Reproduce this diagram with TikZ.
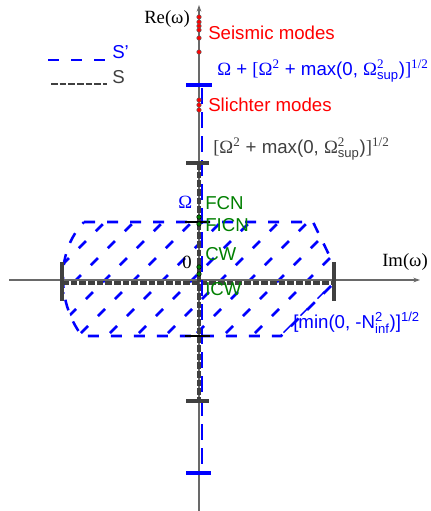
\documentclass[tikz,border=0pt]{standalone}
\usepackage{fontspec}
\usepackage{amsmath}
\setmainfont{Liberation Sans}
\newfontfamily\srf{Liberation Serif}
\usetikzlibrary{arrows.meta}
\definecolor{myblue}{RGB}{0,0,255}
\definecolor{myred}{RGB}{255,0,0}
\definecolor{mygreen}{RGB}{0,128,0}
\definecolor{mygray}{RGB}{64,64,64}
\definecolor{axisgray}{RGB}{105,105,105}
\newcommand\Om{{\srf Ω}}
\newcommand\sqz[1]{$^{\text{#1}}$}
\begin{document}
\begin{tikzpicture}[x=0.75pt,y=-0.75pt,
  lbl/.style={inner sep=0pt, anchor=base west, font=\fontsize{14}{16}\selectfont},
  edgeblue/.style={draw=myblue, line width=1.9pt, dash pattern=on 8.25pt off 9pt},
  hatchblue/.style={draw=myblue, line width=1.9pt, dash pattern=on 7.5pt off 10.5pt},
  sline/.style={draw=mygray, dash pattern=on 5pt off 1.5pt},
  axisline/.style={draw=axisgray, line width=1pt},
  tickgray/.style={draw=mygray, line width=2.5pt},
  tickblue/.style={draw=myblue, line width=2.5pt},
  reddot/.style={fill=myred, draw=black!60, line width=0.4pt},
  greendot/.style={fill=mygreen, draw=black, line width=0.4pt},
  thinblack/.style={draw=black, line width=0.8pt}]
\fill[white] (0,0) rectangle (430,511);
\useasboundingbox (0,0) rectangle (430,511);

% named coordinates
\coordinate (vbot) at (199,511);
\coordinate (vtop) at (199,5);
\coordinate (hleft) at (9,280);
\coordinate (hright) at (420,280);

% hatched region S'
\begin{scope}
  \clip (84,222) -- (313,222) -- (334,265) -- (334,283) -- (281,336) -- (82,336)
    .. controls (70,320) and (63,300) .. (63,278)
    .. controls (63,255) and (70,237) .. cycle;
  \foreach \c in {298,327,...,617}
    \draw[hatchblue] (\c-350,350) -- (\c-150,150);
\end{scope}
\draw[edgeblue] (84,222) -- (313,222) -- (334,265) -- (334,283) -- (281,336) -- (82,336)
    .. controls (70,320) and (63,300) .. (63,278)
    .. controls (63,255) and (70,237) .. cycle;

% axes
\draw[axisline, -{Stealth[length=5pt,width=3.5pt]}] (vbot) -- (vtop);
\draw[axisline, -{Stealth[length=5pt,width=3.5pt]}] (hleft) -- (hright);

% S lines
\coordinate (sv1) at (199,163);
\coordinate (sv2) at (199,401);
\coordinate (sh1) at (62,283);
\coordinate (sh2) at (334,283);
\draw[sline, line width=3pt] (sv1) -- (sv2);
\draw[sline, line width=2.4pt] (sh1) -- (sh2);

% S' vertical line
\coordinate (bv1) at (202,88);
\coordinate (bv2) at (202,473);
\draw[draw=myblue, line width=1pt, dash pattern=on 12pt off 6pt] (bv1) -- (bv2);

% ticks
\draw[tickgray, line width=3pt] (62,262) -- (62,301);
\draw[tickgray, line width=3pt] (334,262) -- (334,301);
\draw[tickgray] (186,163) -- (209,163);
\draw[tickgray] (186,401) -- (209,401);
\draw[tickblue] (186,85) -- (212,85);
\draw[tickblue] (186,473) -- (211,473);
\draw[thinblack] (185,222) -- (210,222);
\draw[thinblack] (185,336) -- (210,336);

% dots
\foreach \y in {17,22,26,30,38,52,100,105,110}
  \draw[reddot] (199,\y) circle (1.7pt);
\foreach \y in {217,224,267,274}
  \draw[greendot] (199,\y) circle (1.7pt);

% legend
\coordinate (l1a) at (48,60);
\coordinate (l1b) at (107,60);
\coordinate (l2a) at (51,84);
\coordinate (l2b) at (107,84);
\draw[edgeblue] (l1a) -- (l1b);
\draw[sline, line width=2.2pt] (l2a) -- (l2b);
\node[lbl, text=myblue] (legSp) at (112,58) {S'};
\node[lbl, text=mygray] (legS) at (112,83) {S};

% labels
\node[lbl, text=myred] (seis) at (208,39.5) {Seismic modes};
\node[lbl, text=myred] (slich) at (208,111) {Slichter modes};
\node[lbl, text=myblue] (fup) at (217,75)
  {\Om{} + {\srf [}\Om\sqz{\srf 2} + max(0, \Om$^{\text{\srf 2}}_{\text{sup}}$){\srf ]}\sqz{\srf 1/2}};
\node[lbl, text=mygray] (fmid) at (213,153)
  {{\srf [}\Om\sqz{\srf 2} + max(0, \Om$^{\text{\srf 2}}_{\text{sup}}$){\srf ]}\sqz{\srf 1/2}};
\node[lbl, text=myblue] (omg) at (178,208) {\Om};
\node[lbl, text=mygreen] (fcn) at (205,209) {FCN};
\node[lbl, text=mygreen] (ficn) at (205,231) {FICN};
\node[lbl, text=mygreen] (cw) at (205,260) {CW};
\node[lbl, text=mygreen] (icw) at (205,295) {ICW};
\node[lbl, text=black, font=\fontsize{14}{16}\srf] (zero) at (182,268) {0};
\node[lbl, text=myblue] (fmin) at (293,328)
  {[min(0, -N$^{\text{2}}_{\text{inf}}$)]\sqz{1/2}};
\node[lbl, text=black, font=\fontsize{14}{16}\srf] (imw) at (382,266) {Im(ω)};
\node[lbl, anchor=base east, text=black, font=\fontsize{14}{16}\srf] (rew) at (190,23) {Re(ω)};
\end{tikzpicture}
\end{document}
